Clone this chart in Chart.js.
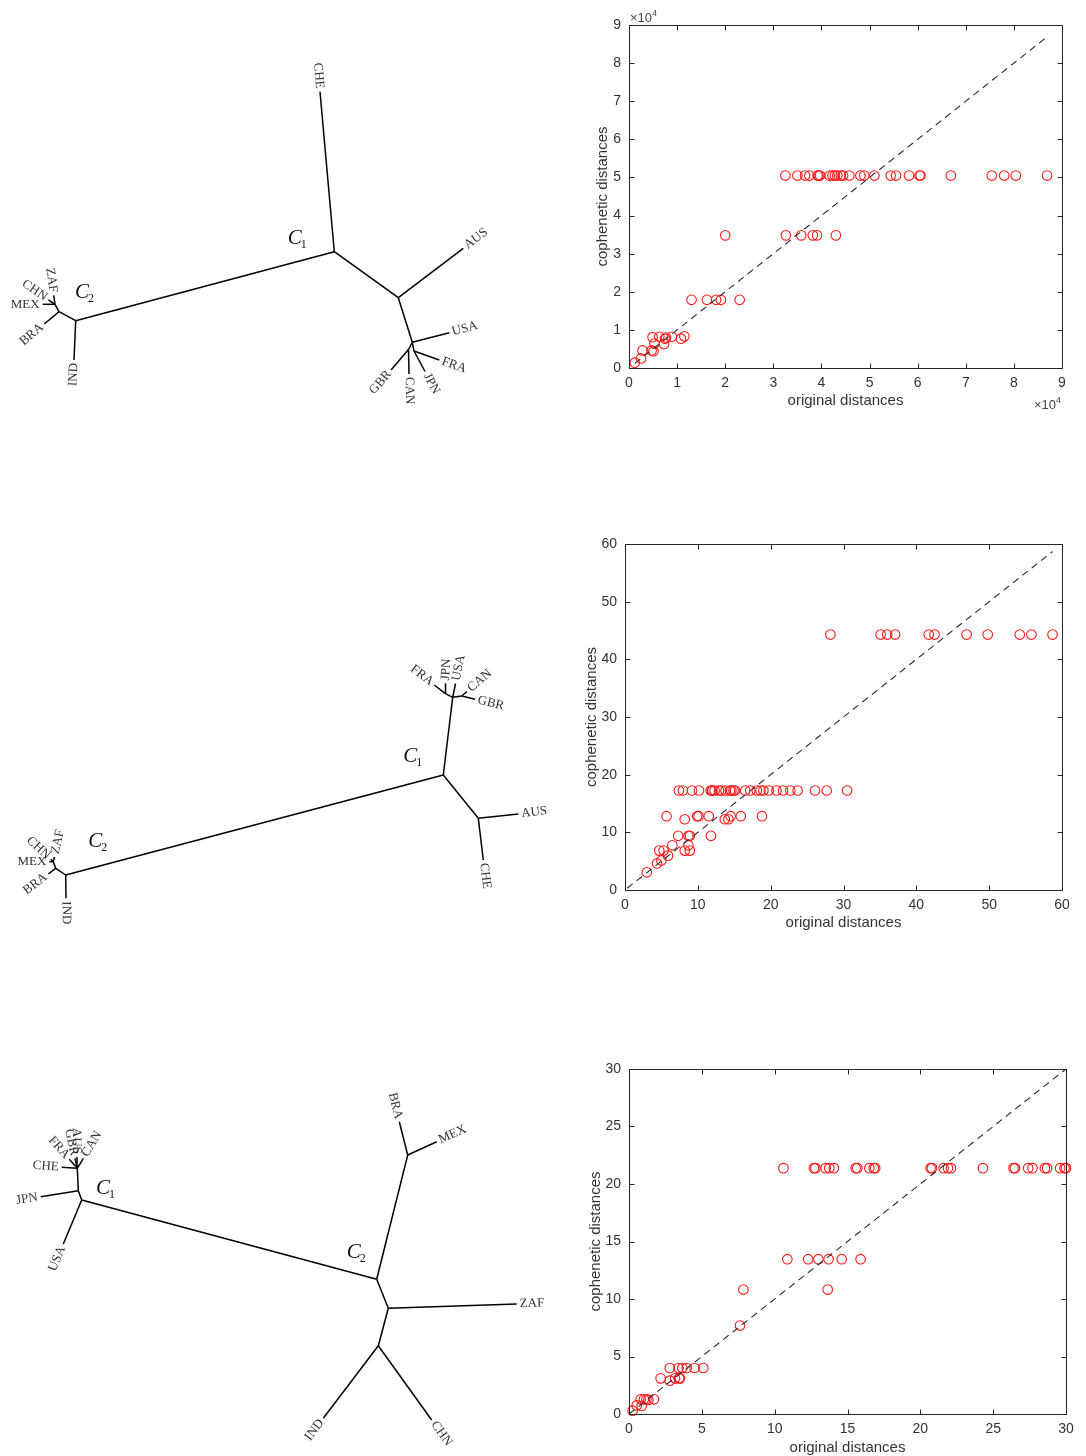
<!DOCTYPE html>
<html lang="en">
<head>
<meta charset="UTF-8">
<title>Cophenetic distances and trees</title>
<script src="https://cdn.jsdelivr.net/npm/chart.js"></script>
<style>
  body { margin: 0; background: #fff; }
  #page { position: relative; width: 1086px; height: 1456px; overflow: hidden; background: #fff; }
  canvas { position: absolute; }
</style>
</head>
<body>
<div id="page">
  <canvas id="tree1" width="560" height="400" style="left:0;top:40px"></canvas>
  <canvas id="tree2" width="560" height="320" style="left:0;top:620px"></canvas>
  <canvas id="tree3" width="560" height="376" style="left:0;top:1080px"></canvas>
  <canvas id="scatter1" width="520" height="420" style="left:560px;top:0"></canvas>
  <canvas id="scatter2" width="520" height="420" style="left:560px;top:520px"></canvas>
  <canvas id="scatter3" width="526" height="420" style="left:560px;top:1040px"></canvas>
</div>
<script>
// ---- scatter 1 (values in units of 10^4) ----
const s1Levels = [5.05, 3.48, 1.79];
const s1Groups = [
  [3.25, 3.50, 3.66, 3.75, 3.92, 3.94, 3.97, 4.17, 4.23, 4.28, 4.33, 4.40, 4.45, 4.58, 4.81, 4.89, 5.10, 5.44, 5.55, 5.82, 6.04, 6.06, 6.69, 7.54, 7.80, 8.04, 8.69],
  [2.00, 3.26, 3.58, 3.82, 3.91, 4.30],
  [1.30, 1.62, 1.81, 1.91, 2.30]
];
const s1LowX = [0.49, 0.63, 0.77, 0.89, 1.15, 1.08, 0.75, 0.53, 0.73, 0.28, 0.47, 0.51, 0.25, 0.12];
const s1LowY = [0.81, 0.82, 0.80, 0.82, 0.83, 0.77, 0.77, 0.64, 0.63, 0.46, 0.46, 0.44, 0.25, 0.14];
const s1Diag = [0.12, 8.65];

// ---- scatter 2 ----
const s2Levels = [44.3, 17.25, 12.8, 12.27, 9.4, 7.75, 6.83];
const s2Groups = [
  [28.2, 35.1, 36.0, 37.1, 41.7, 42.5, 46.9, 49.8, 54.2, 55.8, 58.7],
  [7.4, 7.95, 9.2, 10.15, 11.75, 11.9, 12.0, 12.3, 12.9, 13.2, 13.8, 14.4, 14.6, 14.9, 15.1, 16.5, 17.2, 18.1, 18.6, 19.0, 19.75, 20.8, 21.7, 22.7, 23.7, 26.1, 27.7, 30.5],
  [5.7, 9.9, 10.1, 11.5, 14.5, 15.9, 18.8],
  [8.2, 13.7, 14.2],
  [7.3, 8.7, 8.9, 11.8],
  [6.5, 8.7],
  [4.7, 5.3, 8.2, 8.9]
];
const s2LowX = [5.9, 5.0, 4.4, 3.0];
const s2LowY = [5.96, 5.1, 4.6, 3.07];
const s2Diag = [0.3, 58.7];

// ---- scatter 3 ----
const s3Levels = [21.38, 13.46, 10.82, 4.0, 3.1, 1.28];
const s3Groups = [
  [10.6, 12.7, 12.8, 13.5, 13.75, 14.07, 15.56, 15.67, 16.5, 16.8, 16.9, 20.7, 20.8, 21.6, 21.9, 22.1, 24.3, 26.4, 26.5, 27.4, 27.7, 28.55, 28.7, 29.6, 29.9, 30.0],
  [10.87, 12.3, 13.0, 13.7, 14.6, 15.9],
  [7.85, 13.64],
  [2.8, 3.4, 3.66, 3.96, 4.5, 5.1],
  [2.17, 3.16, 3.43, 3.5],
  [0.8, 1.03, 1.2, 1.72]
];
const s3LowX = [7.62, 2.8, 1.33, 0.53, 0.87, 0.25];
const s3LowY = [7.69, 2.9, 1.22, 0.75, 0.7, 0.29];
const s3Diag = [0, 30];

// ---- trees: node name ('' = internal), layout x, layout y, parent index ----
const tree1Names  = ['', 'CHE', '', '', 'AUS', '', 'USA', '', '', 'FRA', 'JPN', 'CAN', 'GBR', 'IND', '', 'BRA', '', 'MEX', 'CHN', 'ZAF'];
const tree1X      = [334.3, 320, 75.7, 398.3, 463.3, 412.3, 449.3, 408.5, 414, 439.3, 425, 409, 391, 74, 59, 44.3, 55, 42.7, 48.4, 53.7];
const tree1Y      = [251.7, 91.7, 320.7, 297.7, 248.3, 342.3, 332.7, 349.5, 351, 360, 371.5, 374, 370, 360, 311.7, 324, 304.3, 304.3, 299.8, 295.4];
const tree1Parent = [-1, 0, 0, 0, 3, 3, 5, 5, 5, 8, 8, 7, 7, 2, 2, 14, 14, 16, 16, 16];
const tree1Clusters = ['1', '2'];
const tree1ClusterX = [297.7, 85];
const tree1ClusterY = [236.7, 290.7];

const tree2Names  = ['', '', '', 'AUS', 'CHE', '', 'IND', '', 'BRA', '', 'MEX', 'CHN', 'ZAF', '', '', 'FRA', 'JPN', 'USA', 'CAN', 'GBR'];
const tree2X      = [443.3, 452.7, 478.3, 518.3, 483.3, 65.7, 66, 55.7, 48.3, 53.3, 49.3, 50.7, 54.4, 445, 461.7, 434.3, 445.5, 455.5, 467, 475];
const tree2Y      = [775, 697.3, 818.3, 814, 860, 875, 898.3, 868.3, 874, 861.7, 861.7, 859.3, 856.8, 693.3, 696, 685, 683.3, 683.5, 691.5, 699.3];
const tree2Parent = [-1, 0, 0, 2, 2, 0, 5, 5, 7, 7, 9, 9, 9, 1, 1, 13, 13, 1, 14, 14];
const tree2Clusters = ['1', '2'];
const tree2ClusterX = [413.3, 98.3];
const tree2ClusterY = [755, 840];

const tree3Names  = ['', '', '', 'USA', 'JPN', '', 'CHE', 'FRA', 'GBR', 'AUS', 'CAN', '', 'BRA', 'MEX', '', 'ZAF', '', 'IND', 'CHN'];
const tree3X      = [81.7, 376.7, 78.3, 63.3, 40.7, 77.3, 61.7, 69.3, 75, 77, 83.3, 407.7, 399.3, 436.7, 388.3, 516.7, 378.3, 323.3, 431.7];
const tree3Y      = [1200, 1279.3, 1190.7, 1244, 1196.7, 1168.3, 1167.3, 1159.3, 1158.3, 1157, 1158.3, 1155, 1121.7, 1141.7, 1308.3, 1304, 1345.7, 1418.3, 1420];
const tree3Parent = [-1, 0, 0, 0, 2, 2, 5, 5, 5, 5, 5, 1, 11, 11, 1, 14, 14, 16, 16];
const tree3Clusters = ['1', '2'];
const tree3ClusterX = [106, 356.7];
const tree3ClusterY = [1187.3, 1250.7];

// ---------------------------------------------------------------
const AXIS_COLOR = '#333';
const SANS = '"Liberation Sans", Arial, sans-serif';
const SERIF = '"Liberation Serif", "Times New Roman", serif';

// MATLAB-like box with inward ticks on all four sides
const matlabBox = {
  id: 'matlabBox',
  afterDraw(chart) {
    const {ctx, chartArea: a, scales} = chart;
    const L = Math.round(a.left) + 0.5, R = Math.round(a.right) + 0.5;
    const T = Math.round(a.top) + 0.5, B = Math.round(a.bottom) + 0.5;
    ctx.save();
    ctx.strokeStyle = '#262626';
    ctx.lineWidth = 1;
    ctx.strokeRect(L, T, R - L, B - T);
    ctx.beginPath();
    scales.x.ticks.forEach(t => {
      const px = Math.round(scales.x.getPixelForValue(t.value)) + 0.5;
      ctx.moveTo(px, B); ctx.lineTo(px, B - 5);
      ctx.moveTo(px, T); ctx.lineTo(px, T + 5);
    });
    scales.y.ticks.forEach(t => {
      const py = Math.round(scales.y.getPixelForValue(t.value)) + 0.5;
      ctx.moveTo(L, py); ctx.lineTo(L + 5, py);
      ctx.moveTo(R, py); ctx.lineTo(R - 5, py);
    });
    ctx.stroke();

    const exp = chart.options.plugins.matlabBox && chart.options.plugins.matlabBox.exponent;
    if (exp) {
      ctx.fillStyle = '#444';
      ctx.textBaseline = 'alphabetic';
      const drawExp = (x, y, alignRight) => {
        ctx.font = '13px ' + SANS;
        const w1 = ctx.measureText('\u00d710').width;
        ctx.font = '9px ' + SANS;
        const w2 = ctx.measureText(exp).width;
        const x0 = alignRight ? x - w1 - w2 : x;
        ctx.font = '13px ' + SANS;
        ctx.textAlign = 'left';
        ctx.fillText('\u00d710', x0, y);
        ctx.font = '9px ' + SANS;
        ctx.fillText(exp, x0 + w1, y - 6);
      };
      drawExp(a.left + 1, a.top - 3, false);
      drawExp(a.right - 1, a.bottom + 41, true);
    }
    ctx.restore();
  }
};

function buildPoints(levels, groups, lowX, lowY) {
  const pts = [];
  groups.forEach((g, i) => g.forEach(x => pts.push({x: x, y: levels[i]})));
  lowX.forEach((x, i) => pts.push({x: x, y: lowY[i]}));
  return pts;
}

function scatterChart(id, pts, diag, cfg) {
  new Chart(document.getElementById(id), {
    type: 'scatter',
    data: {
      datasets: [
        {
          data: diag.map(v => ({x: v, y: v})),
          showLine: true,
          borderColor: '#2a2a2a',
          borderWidth: 1.1,
          borderDash: [7, 5],
          pointRadius: 0,
          clip: false
        },
        {
          data: pts,
          pointStyle: 'circle',
          pointRadius: 4.8,
          pointBorderWidth: 1.1,
          pointBorderColor: '#ff1a1a',
          pointBackgroundColor: 'rgba(0,0,0,0)',
          clip: false
        }
      ]
    },
    options: {
      responsive: false,
      animation: false,
      events: [],
      layout: {padding: {top: cfg.padTop, right: cfg.padRight, left: 0, bottom: 0}},
      plugins: {
        legend: {display: false},
        tooltip: {enabled: false},
        matlabBox: {exponent: cfg.exponent || null}
      },
      scales: {
        x: {
          type: 'linear', min: 0, max: cfg.max,
          grid: {display: false, drawTicks: false},
          border: {display: false},
          ticks: {stepSize: cfg.step, padding: 7, color: AXIS_COLOR, font: {family: SANS, size: 14}},
          title: {display: true, text: 'original distances', color: AXIS_COLOR,
                  font: {family: SANS, size: 15, lineHeight: 1.2}, padding: {top: 0, bottom: cfg.xTitlePad}},
          afterFit: s => { s.height = cfg.xAxisH; }
        },
        y: {
          type: 'linear', min: 0, max: cfg.max,
          grid: {display: false, drawTicks: false},
          border: {display: false},
          ticks: {stepSize: cfg.step, padding: 8, color: AXIS_COLOR, font: {family: SANS, size: 14}},
          title: {display: true, text: 'cophenetic distances', color: AXIS_COLOR,
                  font: {family: SANS, size: 15, lineHeight: 1.2}, padding: {top: cfg.yTitlePad, bottom: 0}},
          afterFit: s => { s.width = cfg.yAxisW; }
        }
      }
    },
    plugins: [matlabBox]
  });
}

scatterChart('scatter1', buildPoints(s1Levels, s1Groups, s1LowX, s1LowY), s1Diag,
  {max: 9, step: 1, padTop: 25, padRight: 18, yAxisW: 69, xAxisH: 52, xTitlePad: 10, yTitlePad: 34, exponent: '4'});
scatterChart('scatter2', buildPoints(s2Levels, s2Groups, s2LowX, s2LowY), s2Diag,
  {max: 60, step: 10, padTop: 24, padRight: 18, yAxisW: 65, xAxisH: 50, xTitlePad: 8, yTitlePad: 23});
scatterChart('scatter3', buildPoints(s3Levels, s3Groups, s3LowX, s3LowY), s3Diag,
  {max: 30, step: 5, padTop: 29, padRight: 20, yAxisW: 69, xAxisH: 46, xTitlePad: 3, yTitlePad: 27});

// ---------------------------------------------------------------
// unrooted trees: branches are line datasets, leaf names follow the branch direction
const treeLabels = {
  id: 'treeLabels',
  afterDatasetsDraw(chart, args, opts) {
    const t = opts.tree;
    const {ctx} = chart;
    const xs = chart.scales.x, ys = chart.scales.y;
    ctx.save();
    ctx.fillStyle = '#333';
    ctx.textAlign = 'center';
    ctx.textBaseline = 'middle';
    ctx.font = '13px ' + SERIF;
    t.names.forEach((name, i) => {
      if (!name) return;
      const p = t.parent[i];
      const x0 = xs.getPixelForValue(t.x[p]), y0 = ys.getPixelForValue(t.y[p]);
      const x1 = xs.getPixelForValue(t.x[i]), y1 = ys.getPixelForValue(t.y[i]);
      const ang = Math.atan2(y1 - y0, x1 - x0);
      const w = ctx.measureText(name).width;
      const d = 3 + w / 2;
      let rot = ang;
      if (rot > Math.PI / 2) rot -= Math.PI;
      else if (rot < -Math.PI / 2) rot += Math.PI;
      ctx.save();
      ctx.translate(x1 + Math.cos(ang) * d, y1 + Math.sin(ang) * d);
      ctx.rotate(rot);
      ctx.fillText(name, 0, 0);
      ctx.restore();
    });
    // cluster marks C1 / C2
    t.clusters.forEach((sub, i) => {
      const cx = xs.getPixelForValue(t.cx[i]), cy = ys.getPixelForValue(t.cy[i]);
      ctx.font = 'italic 21px ' + SERIF;
      const wC = ctx.measureText('C').width;
      ctx.font = '12px ' + SERIF;
      const wS = ctx.measureText(sub).width;
      const x0 = cx - (wC + wS) / 2;
      ctx.textAlign = 'left';
      ctx.textBaseline = 'alphabetic';
      ctx.font = 'italic 21px ' + SERIF;
      ctx.fillStyle = '#111';
      ctx.fillText('C', x0, cy + 7);
      ctx.font = '12px ' + SERIF;
      ctx.fillText(sub, x0 + wC - 1, cy + 11);
    });
    ctx.restore();
  }
};

function treeChart(id, names, X, Y, parent, clusters, cx, cy, yMin) {
  const canvas = document.getElementById(id);
  const datasets = [];
  parent.forEach((p, i) => {
    if (p < 0) return;
    datasets.push({
      data: [{x: X[p], y: Y[p]}, {x: X[i], y: Y[i]}],
      showLine: true,
      borderColor: '#000',
      borderWidth: 1.5,
      pointRadius: 0
    });
  });
  new Chart(canvas, {
    type: 'scatter',
    data: {datasets: datasets},
    options: {
      responsive: false,
      animation: false,
      events: [],
      layout: {padding: 0},
      plugins: {
        legend: {display: false},
        tooltip: {enabled: false},
        treeLabels: {tree: {names: names, x: X, y: Y, parent: parent, clusters: clusters, cx: cx, cy: cy}}
      },
      scales: {
        x: {type: 'linear', min: 0, max: canvas.width, display: false},
        y: {type: 'linear', min: yMin, max: yMin + canvas.height, reverse: true, display: false}
      }
    },
    plugins: [treeLabels]
  });
}

treeChart('tree1', tree1Names, tree1X, tree1Y, tree1Parent, tree1Clusters, tree1ClusterX, tree1ClusterY, 40);
treeChart('tree2', tree2Names, tree2X, tree2Y, tree2Parent, tree2Clusters, tree2ClusterX, tree2ClusterY, 620);
treeChart('tree3', tree3Names, tree3X, tree3Y, tree3Parent, tree3Clusters, tree3ClusterX, tree3ClusterY, 1080);
</script>
</body>
</html>
